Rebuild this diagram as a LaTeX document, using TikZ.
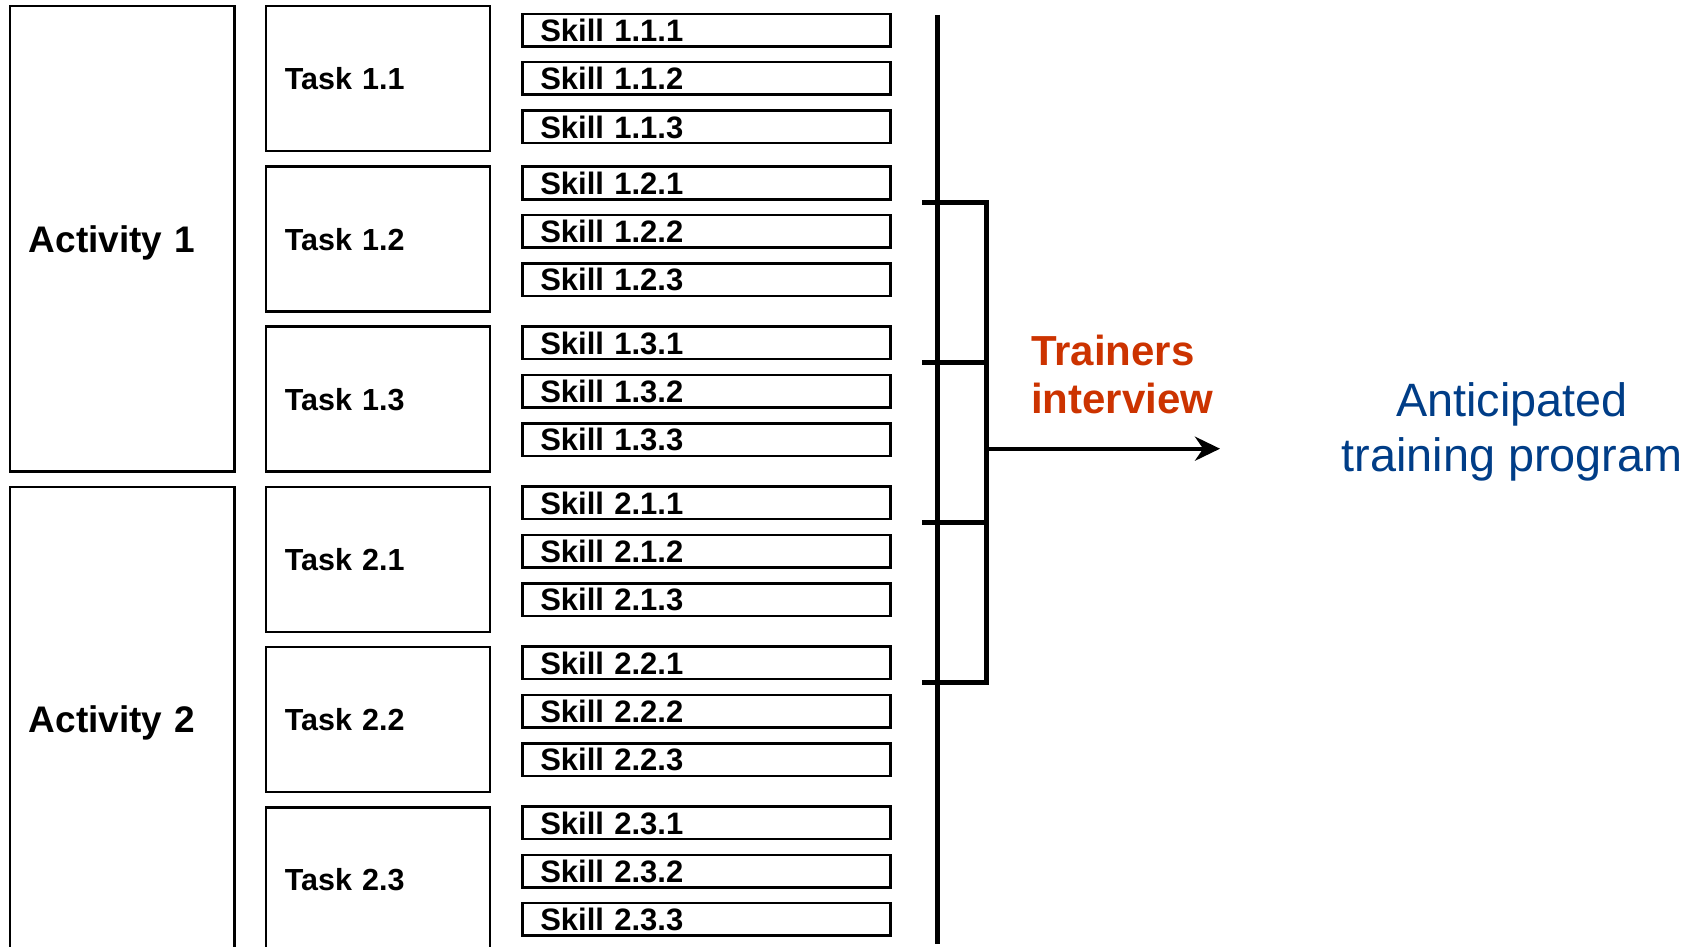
\documentclass[tikz,border=0pt]{standalone}
\usepackage{fontspec}
\setmainfont{Liberation Sans}
\usepackage{tikz}
\usetikzlibrary{arrows.meta,positioning}
\usepackage{xcolor}
\definecolor{trainred}{RGB}{204,51,0}
\definecolor{progblue}{RGB}{0,61,135}

\begin{document}
\begin{tikzpicture} [
      x = 1pt, y = -1pt,
      box/.style = { draw, line width = 2.5pt, anchor = north west, inner ysep = 0, align = left, text depth = 0pt },
      actbox/.style = { box, inner xsep = 19pt, text width = 186.5pt, minimum height = 465pt, font = \fontsize{37}{44}\selectfont\bfseries },
      taskbox/.style = { box, inner xsep = 19pt, text width = 186pt, minimum height = 145pt, font = \fontsize{30.5}{36}\selectfont\bfseries },
      skillbox/.style = { box, inner xsep = 18pt, text width = 332pt, minimum height = 32.5pt, font = \fontsize{31}{36}\selectfont\bfseries },
      rail/.style = { line width = 4.5pt },
      bracket/.style = { line width = 5pt }
      ]

      \useasboundingbox (0,0) rectangle (1698,947);
      \clip (0,0) rectangle (1698,947);

      % activities
      \node [actbox] (act1) at (8.5,5) {Activity 1};
      \node [actbox] (act2) at (8.5,485.6) {Activity 2};

      % tasks
      \node [taskbox] (task11) at (264.5,5) {Task 1.1};
      \node [taskbox] (task12) at (264.5,165.2) {Task 1.2};
      \node [taskbox] (task13) at (264.5,325.4) {Task 1.3};
      \node [taskbox] (task21) at (264.5,485.6) {Task 2.1};
      \node [taskbox] (task22) at (264.5,645.8) {Task 2.2};
      \node [taskbox] (task23) at (264.5,806) {Task 2.3};

      % skills
      \node [skillbox] (skill111) at (521,12.7) {Skill 1.1.1};
      \node [skillbox] (skill112) at (521,61) {Skill 1.1.2};
      \node [skillbox] (skill113) at (521,109.3) {Skill 1.1.3};
      \node [skillbox] (skill121) at (521,165.5) {Skill 1.2.1};
      \node [skillbox] (skill122) at (521,213.8) {Skill 1.2.2};
      \node [skillbox] (skill123) at (521,262.1) {Skill 1.2.3};
      \node [skillbox] (skill131) at (521,325.4) {Skill 1.3.1};
      \node [skillbox] (skill132) at (521,373.7) {Skill 1.3.2};
      \node [skillbox] (skill133) at (521,422) {Skill 1.3.3};
      \node [skillbox] (skill211) at (521,485.4) {Skill 2.1.1};
      \node [skillbox] (skill212) at (521,533.7) {Skill 2.1.2};
      \node [skillbox] (skill213) at (521,582) {Skill 2.1.3};
      \node [skillbox] (skill221) at (521,645.4) {Skill 2.2.1};
      \node [skillbox] (skill222) at (521,693.7) {Skill 2.2.2};
      \node [skillbox] (skill223) at (521,742) {Skill 2.2.3};
      \node [skillbox] (skill231) at (521,805.3) {Skill 2.3.1};
      \node [skillbox] (skill232) at (521,853.6) {Skill 2.3.2};
      \node [skillbox] (skill233) at (521,901.9) {Skill 2.3.3};

      % rail and bracket
      \coordinate (railtop) at (937.3,15);
      \coordinate (railbot) at (937.3,944);
      \draw [rail] (railtop) -- (railbot);

      \coordinate (tick1) at (922,202.3);
      \coordinate (tick2) at (922,362.6);
      \coordinate (tick3) at (922,522.7);
      \coordinate (tick4) at (922,682.7);
      \draw [bracket] (tick1) -- ++(64,0) |- (tick4);
      \draw [bracket] (tick2) -- ++(64,0);
      \draw [bracket] (tick3) -- ++(64,0);

      \coordinate (fork) at (986,448.7);
      \coordinate (goal) at (1220,448.7);
      \draw [line width = 4pt, -{Stealth[length = 25pt, width = 24pt]}] (fork) -- (goal);

      % labels (base = last line)
      \node [anchor = base west, inner sep = 0, align = left, text = trainred, font = \fontsize{42}{48}\selectfont\bfseries] (interview) at (1031,413.3) {Trainers\\interview};
      \node [anchor = base, inner sep = 0, align = center, text = progblue, font = \fontsize{46.8}{55}\selectfont] (program) at (1512,471.7) {Anticipated\\training program};
    \end{tikzpicture}
\end{document}
